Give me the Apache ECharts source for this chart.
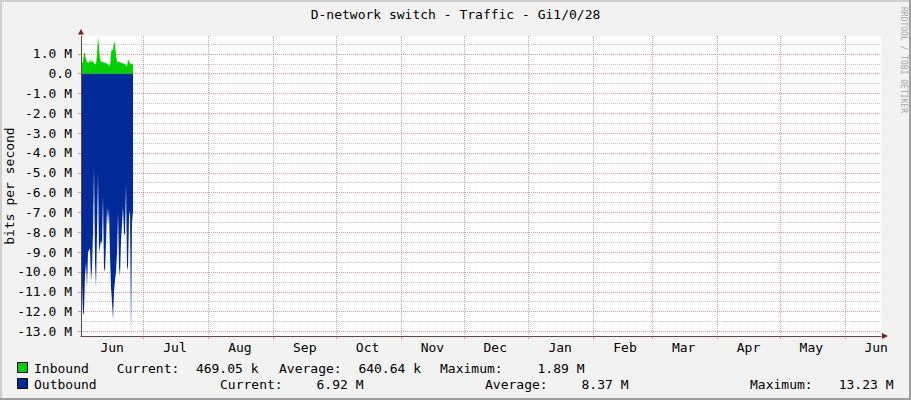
<!DOCTYPE html>
<html><head><meta charset="utf-8">
<script src="https://cdn.jsdelivr.net/npm/echarts@6/dist/echarts.min.js"></script>
<style>html,body{margin:0;padding:0;background:#f2f2f2}#c{width:911px;height:400px}</style>
</head><body><div id="c"></div>
<script>
// ---------------- data ----------------
const chartTitle = 'D-network switch - Traffic - Gi1/0/28';
const yAxisTitle = 'bits per second';
const watermark = 'RRDTOOL / TOBI OETIKER';
const monthNames = ['Jun','Jul','Aug','Sep','Oct','Nov','Dec','Jan','Feb','Mar','Apr','May','Jun'];
const monthStartDays = [0,30,61,92,122,153,183,214,245,273,304,334,365];
const viewStartDay = 0.1, viewEndDay = 382.3;
const yTickValuesM = [-13,-12,-11,-10,-9,-8,-7,-6,-5,-4,-3,-2,-1,0,1];
const yMinorValuesM = [-12.5,-11.5,-10.5,-9.5,-8.5,-7.5,-6.5,-5.5,-4.5,-3.5,-2.5,-1.5,-0.5,0.5,1.5];
const yMinM = -13.23, yMaxM = 1.9;
const sampleStartDay = 0.578, sampleStepDays = 0.478;
const inboundM = [0.53,0.60,1.06,1.02,0.70,0.62,0.53,0.55,0.73,0.55,0.66,0.60,0.52,0.48,0.46,1.00,1.89,1.30,0.75,0.60,
  0.60,0.58,0.56,0.55,0.52,0.50,0.46,0.45,0.38,1.05,1.25,1.15,1.65,1.45,0.95,0.62,0.58,0.60,0.58,0.55,
  0.53,0.52,0.50,0.47,0.40,0.36,0.73,0.62,0.50,0.52,0.48,0.469];
const outboundM = [10.6,12.2,12.0,10.2,9.5,10.8,9.0,8.9,8.8,10.5,9.8,8.0,4.7,9.5,10.8,8.0,5.0,9.0,8.7,8.4,
  8.6,6.2,9.8,10.0,8.5,6.7,7.6,6.8,9.2,10.8,11.5,12.4,11.0,10.4,10.0,9.0,7.0,9.8,10.2,8.4,
  7.6,6.7,8.2,8.0,5.5,9.9,9.7,7.2,6.9,13.23,7.5,6.92];
const seriesNames = ['Inbound','Outbound'];
const currentText = ['469.05 k','6.92 M'];
const averageText = ['640.64 k','8.37 M'];
const maximumText = ['1.89 M','13.23 M'];

// ---------------- style ----------------
const FONT = '"DejaVu Sans Mono", monospace';
const COL_IN = '#00CF00', COL_OUT = '#002A97';
const MAJOR = 'rgba(222,79,79,0.6)', MINOR = 'rgba(143,143,143,0.5)';
const AXIS = '#5c4848';
const G = {left:81, top:36, width:800, height:300};

const chart = echarts.init(document.getElementById('c'), null, {renderer:'svg'});

const labelDays = monthStartDays.map(d => d + 15);
const monthLines = monthStartDays.filter(d => d > viewStartDay && d < viewEndDay);
const inData = inboundM.map((v,i) => [sampleStartDay + i*sampleStepDays, v*1e6]);
const outData = outboundM.map((v,i) => [sampleStartDay + i*sampleStepDays, -v*1e6]);

function txt(text, x, y, align, extra) {
  return Object.assign({type:'text', x, y, silent:true,
    style:{text, fill:'#000', font:'13px ' + FONT, align: align || 'left', verticalAlign:'middle'}}, extra || {});
}
const legendY = [368, 384];
const graphics = [
  {type:'rect', shape:{x:0,y:0,width:911,height:2}, style:{fill:'#cfcfcf'}, silent:true},
  {type:'rect', shape:{x:0,y:0,width:2,height:400}, style:{fill:'#cfcfcf'}, silent:true},
  {type:'rect', shape:{x:909,y:0,width:2,height:400}, style:{fill:'#9e9e9e'}, silent:true},
  {type:'rect', shape:{x:0,y:398,width:911,height:2}, style:{fill:'#9e9e9e'}, silent:true},
  {type:'polygon', shape:{points:[[G.left-3,G.top-1.5],[G.left+3,G.top-1.5],[G.left,G.top-7]]}, style:{fill:'#801f1f'}, silent:true, z:100},
  {type:'polygon', shape:{points:[[G.left+G.width+1,G.top+G.height-3],[G.left+G.width+1,G.top+G.height+3],[G.left+G.width+7,G.top+G.height]]}, style:{fill:'#801f1f'}, silent:true, z:100},
  txt(yAxisTitle, 9.5, G.top + G.height/2, 'center', {rotation: Math.PI/2}),
  {type:'text', x:903, y:60, rotation:-Math.PI/2, silent:true,
    style:{text:watermark, fill:'#a8a8a8', font:'8px ' + FONT, align:'center', verticalAlign:'middle'}},
];
const legendCols = [COL_IN, COL_OUT];
const rowLayout = [
  {cur:116.7, curV:258.5, avg:279, avgV:421, max:440, maxV:584.5},
  {cur:220, curV:363.5, avg:485, avgV:628.5, max:750, maxV:893.5}
];
seriesNames.forEach((n,i) => {
  const y = legendY[i], L = rowLayout[i];
  graphics.push({type:'rect', shape:{x:17.5,y:y-5.5,width:10,height:10}, style:{fill:legendCols[i], stroke:'#000', lineWidth:1}, silent:true});
  graphics.push(txt(n, 34, y));
  graphics.push(txt('Current:', L.cur, y));
  graphics.push(txt(currentText[i], L.curV, y, 'right'));
  graphics.push(txt('Average:', L.avg, y));
  graphics.push(txt(averageText[i], L.avgV, y, 'right'));
  graphics.push(txt('Maximum:', L.max, y));
  graphics.push(txt(maximumText[i], L.maxV, y, 'right'));
});

const option = {
  animation:false,
  backgroundColor:'#f2f2f2',
  title:{text:chartTitle, left:'center', top:8, padding:0,
    textStyle:{fontFamily:FONT, fontSize:13, fontWeight:'normal', color:'#000'}},
  grid:{left:G.left, top:G.top, width:G.width, height:G.height, show:true, backgroundColor:'#fff', borderWidth:0, containLabel:false},
  xAxis:{type:'value', min:viewStartDay, max:viewEndDay,
    axisLine:{onZero:false, lineStyle:{color:AXIS, width:1}},
    axisTick:{customValues: monthLines, length:3, lineStyle:{color:MAJOR}},
    axisLabel:{customValues: labelDays, margin:5, color:'#000', fontFamily:FONT, fontSize:13,
      formatter: v => monthNames[labelDays.indexOf(v)] || ''},
    splitLine:{show:true, lineStyle:{color:MAJOR, type:[1,1], width:1}}},
  yAxis:[
    {type:'value', min:yMinM*1e6, max:yMaxM*1e6,
      axisLine:{show:true, lineStyle:{color:AXIS, width:1}},
      axisTick:{show:true, customValues: yTickValuesM.map(v=>v*1e6), length:3, lineStyle:{color:MAJOR}},
      axisLabel:{customValues: yTickValuesM.map(v=>v*1e6), margin:9, color:'#000', fontFamily:FONT, fontSize:13,
        formatter: v => v === 0 ? '0.0' : (v/1e6).toFixed(1) + ' M'},
      splitLine:{show:true, lineStyle:{color:MAJOR, type:[1,1], width:1}}},
    {type:'value', min:yMinM*1e6, max:yMaxM*1e6, position:'left',
      axisLine:{show:false},
      axisTick:{show:false, customValues: yMinorValuesM.map(v=>v*1e6)},
      axisLabel:{show:false, customValues: yMinorValuesM.map(v=>v*1e6)},
      splitLine:{show:true, lineStyle:{color:MINOR, type:[1,1], width:1}}}
  ],
  series:[
    {name:seriesNames[0], type:'line', data:inData, symbol:'none', showSymbol:false,
      lineStyle:{width:0}, areaStyle:{color:COL_IN, opacity:1}, itemStyle:{color:COL_IN}, z:2},
    {name:seriesNames[1], type:'line', data:outData, symbol:'none', showSymbol:false,
      lineStyle:{width:0}, areaStyle:{color:COL_OUT, opacity:1}, itemStyle:{color:COL_OUT}, z:2}
  ],
  graphic: graphics
};
chart.setOption(option);
</script></body></html>
